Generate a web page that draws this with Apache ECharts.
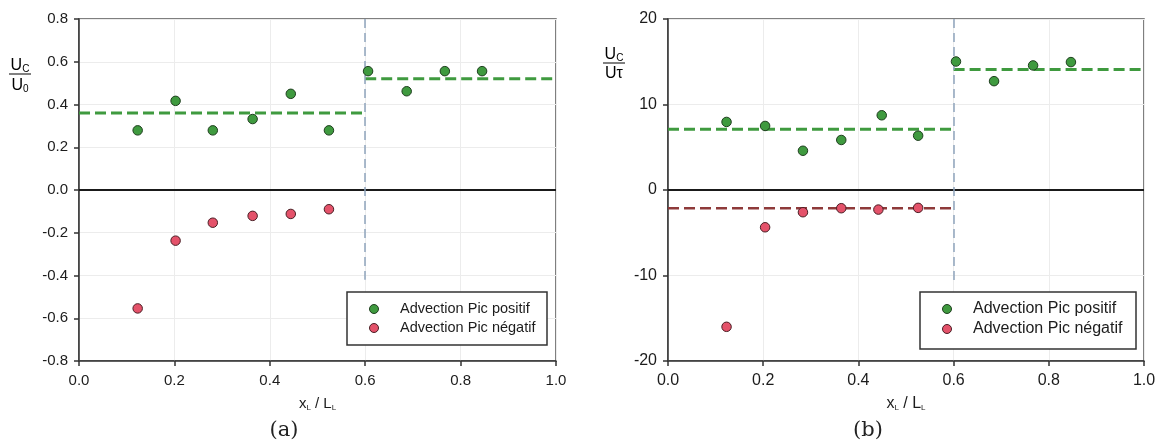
<!DOCTYPE html>
<html><head><meta charset="utf-8">
<script src="https://cdn.jsdelivr.net/npm/echarts@6/dist/echarts.min.js"></script>
<style>html,body{margin:0;padding:0;background:#fff}#c{width:1165px;height:446px}</style>
</head><body><div id="c"></div>
<script>
// ---- data ----
const xTicks = [0.0, 0.2, 0.4, 0.6, 0.8, 1.0];
const boundaryX = 0.6;
// panel (a): Uc/U0
const aPosX = [0.123, 0.2025, 0.2805, 0.364, 0.444, 0.524, 0.606, 0.687, 0.767, 0.845];
const aPosY = [0.279, 0.417, 0.279, 0.332, 0.450, 0.279, 0.556, 0.462, 0.556, 0.556];
const aNegX = [0.123, 0.2025, 0.2805, 0.364, 0.444, 0.524];
const aNegY = [-0.554, -0.237, -0.153, -0.121, -0.112, -0.090];
const aMeanPos = [0.36, 0.52];        // before / after boundary
const aBoundaryEnd = -0.42;
// panel (b): Uc/Utau
const bPosX = [0.123, 0.204, 0.2835, 0.364, 0.449, 0.5255, 0.605, 0.685, 0.767, 0.8465];
const bPosY = [7.96, 7.49, 4.59, 5.85, 8.74, 6.35, 15.03, 12.73, 14.57, 14.96];
const bNegX = [0.123, 0.204, 0.2835, 0.364, 0.442, 0.5255];
const bNegY = [-16.0, -4.36, -2.60, -2.13, -2.29, -2.09];
const bMeanPos = [7.1, 14.1];
const bMeanNeg = [-2.13];
const bBoundaryEnd = -10.9;
const seriesNames = ['Advection Pic positif', 'Advection Pic négatif'];

const zip = (xs, ys) => xs.map((x, i) => [x, ys[i]]);
const GREEN = '#3f9a3f', GREEN_EDGE = '#1f3f1f';
const RED = '#e4526a', RED_EDGE = '#4a1f25';
const FONT = 'Liberation Sans, Arial, sans-serif';
const INK = '#1c1c1c';

function xAxis(gi, fs) {
  return {
    type: 'value', gridIndex: gi, min: 0, max: 1, interval: 0.2,
    axisLine: {show: true, onZero: false, lineStyle: {color: '#333', width: 1.5}},
    axisTick: {show: true, inside: false, length: 5, lineStyle: {color: '#333', width: 1.5}},
    axisLabel: {formatter: v => v.toFixed(1), color: INK, fontSize: fs, fontFamily: FONT, margin: 12},
    splitLine: {show: true, lineStyle: {color: '#ececec', width: 1}},
    name: '{m|x}{s|L}{m| / L}{s|L}', nameLocation: 'middle', nameGap: 34,
    nameTextStyle: {rich: {
      m: {fontSize: fs, fontFamily: FONT, color: INK},
      s: {fontSize: 8, fontFamily: FONT, color: INK, padding: [9, 0, 0, 0]}
    }}
  };
}
function yAxis(gi, min, max, interval, fmt, fs) {
  return {
    type: 'value', gridIndex: gi, min, max, interval,
    axisLine: {show: true, onZero: false, lineStyle: {color: '#333', width: 1.5}},
    axisTick: {show: true, inside: false, length: 5, lineStyle: {color: '#333', width: 1.5}},
    axisLabel: {formatter: fmt, color: INK, fontSize: fs, fontFamily: FONT, margin: 11},
    splitLine: {show: true, lineStyle: {color: '#ececec', width: 1}}
  };
}
function scatter(name, gi, data, fill, edge) {
  return {
    name, type: 'scatter', xAxisIndex: gi, yAxisIndex: gi, data,
    symbol: 'circle', symbolSize: 9.5,
    itemStyle: {color: fill, borderColor: edge, borderWidth: 1, opacity: 1},
    z: 5
  };
}
function seg(gi, x0, x1, y, color, width, z) {
  return {
    type: 'line', xAxisIndex: gi, yAxisIndex: gi, data: [[x0, y], [x1, y]],
    symbol: 'none', silent: true, z: z || 3,
    lineStyle: {color, width, type: [11, 5]}
  };
}
function refLines(gi, yTop, yEnd) {
  return {
    type: 'line', xAxisIndex: gi, yAxisIndex: gi, data: [], silent: true,
    markLine: {
      silent: true, symbol: 'none', animation: false, label: {show: false},
      data: [
        [{coord: [0, 0], lineStyle: {color: '#1a1a1a', width: 2, type: 'solid'}}, {coord: [1, 0]}],
        [{coord: [boundaryX, yTop], lineStyle: {color: '#8ea4bc', width: 1.5, type: [9, 5]}}, {coord: [boundaryX, yEnd]}]
      ]
    }, z: 2
  };
}

function fraction(cx, top, fs, num, numSub, den, denSub) {
  const rich = {
    u: {fontSize: fs, fontFamily: FONT, color: '#2a2a2a'},
    s: {fontSize: Math.round(fs * 0.6), fontFamily: FONT, color: '#2a2a2a', padding: [Math.round(fs*0.45), 0, 0, 0]}
  };
  return [
    {type: 'text', x: cx, y: top, style: {text: '{u|' + num + '}' + (numSub ? '{s|' + numSub + '}' : ''), rich, align: 'center', verticalAlign: 'top'}},
    {type: 'line', shape: {x1: cx - 11, y1: top + fs + 1, x2: cx + 11, y2: top + fs + 1}, style: {stroke: '#2a2a2a', lineWidth: 1.2}},
    {type: 'text', x: cx, y: top + fs + 4, style: {text: '{u|' + den + '}' + (denSub ? '{s|' + denSub + '}' : ''), rich, align: 'center', verticalAlign: 'top'}}
  ];
}
function legendBox(l, t, w, h, fs, rowGap) {
  const r1 = t + 17, r2 = r1 + rowGap;
  return [
    {type: 'rect', shape: {x: l, y: t, width: w, height: h}, style: {fill: '#fff', stroke: '#333', lineWidth: 1.5}, z: 10},
    {type: 'circle', shape: {cx: l + 27, cy: r1, r: 4.5}, style: {fill: GREEN, stroke: GREEN_EDGE, lineWidth: 1}, z: 11},
    {type: 'circle', shape: {cx: l + 27, cy: r2, r: 4.5}, style: {fill: RED, stroke: RED_EDGE, lineWidth: 1}, z: 11},
    {type: 'text', x: l + 53, y: r1, style: {text: seriesNames[0], fontSize: fs, fontFamily: FONT, fill: INK, verticalAlign: 'middle'}, z: 11},
    {type: 'text', x: l + 53, y: r2, style: {text: seriesNames[1], fontSize: fs, fontFamily: FONT, fill: INK, verticalAlign: 'middle'}, z: 11}
  ];
}

const chart = echarts.init(document.getElementById('c'), null, {renderer: 'canvas'});
chart.setOption({
  animation: false,
  backgroundColor: '#fff',
  grid: [
    {left: 79, top: 19, width: 477, height: 342, show: true, borderColor: '#555', borderWidth: 1.5},
    {left: 668, top: 19, width: 476, height: 342, show: true, borderColor: '#555', borderWidth: 1.5}
  ],
  xAxis: [xAxis(0, 15), xAxis(1, 16)],
  yAxis: [
    yAxis(0, -0.8, 0.8, 0.2, v => v.toFixed(1), 15),
    yAxis(1, -20, 20, 10, v => String(v), 16)
  ],
  series: [
    refLines(0, 0.8, aBoundaryEnd),
    seg(0, 0, boundaryX, aMeanPos[0], GREEN, 3),
    seg(0, boundaryX, 1, aMeanPos[1], GREEN, 3),
    scatter(seriesNames[0], 0, zip(aPosX, aPosY), GREEN, GREEN_EDGE),
    scatter(seriesNames[1], 0, zip(aNegX, aNegY), RED, RED_EDGE),
    refLines(1, 20, bBoundaryEnd),
    seg(1, 0, boundaryX, bMeanPos[0], GREEN, 3),
    seg(1, boundaryX, 1, bMeanPos[1], GREEN, 3),
    seg(1, 0, boundaryX, bMeanNeg[0], '#8e3a3a', 2.5),
    scatter(seriesNames[0], 1, zip(bPosX, bPosY), GREEN, GREEN_EDGE),
    scatter(seriesNames[1], 1, zip(bNegX, bNegY), RED, RED_EDGE)
  ],
  graphic: [].concat(
    fraction(20, 57, 16, 'U', 'C', 'U', '0'),
    fraction(614, 46, 16, 'U', 'C', 'Uτ', ''),
    legendBox(347, 292, 200, 53, 14.5, 19),
    legendBox(920, 292, 216, 57, 16, 20),
    [
      {type: 'text', x: 284, y: 431, style: {text: '(a)', fontSize: 21, fontFamily: 'DejaVu Serif, Liberation Serif, serif', fill: '#222', align: 'center', verticalAlign: 'middle'}},
      {type: 'text', x: 868, y: 431, style: {text: '(b)', fontSize: 21, fontFamily: 'DejaVu Serif, Liberation Serif, serif', fill: '#222', align: 'center', verticalAlign: 'middle'}}
    ]
  )
});
</script></body></html>
